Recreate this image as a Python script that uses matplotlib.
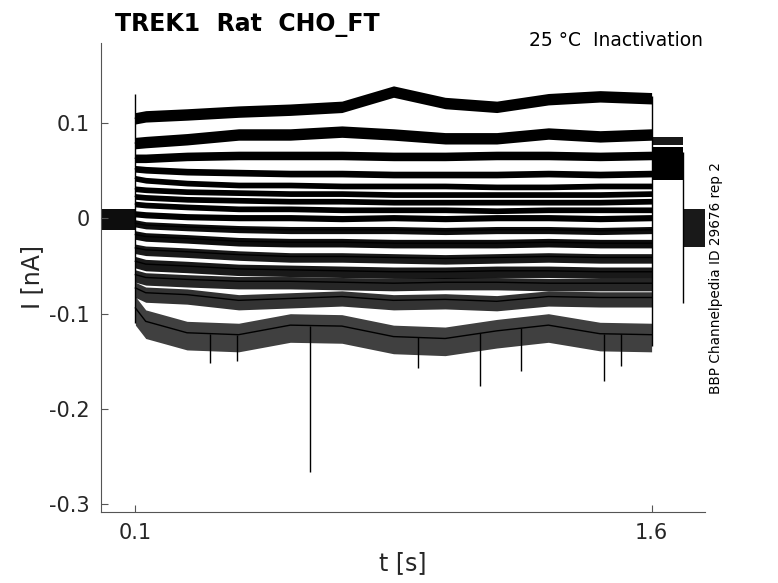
import matplotlib
matplotlib.use('Agg')
import matplotlib.pyplot as plt
import numpy as np

## sweep levels during the 0.1 - 1.6 s pulse, read at these times [s]
t_knots = [0.1, 0.13, 0.25, 0.4, 0.55, 0.7, 0.85, 1.0, 1.15, 1.3, 1.45, 1.6]

## current level of each sweep at t_knots [nA]
levels = [
    [0.105, 0.107, 0.109, 0.112, 0.114, 0.117, 0.133, 0.121, 0.117, 0.125, 0.128, 0.126],
    [0.079, 0.080, 0.083, 0.088, 0.088, 0.091, 0.088, 0.084, 0.084, 0.089, 0.086, 0.088],
    [0.063, 0.063, 0.065, 0.066, 0.066, 0.066, 0.065, 0.065, 0.066, 0.066, 0.065, 0.066],
    [0.052, 0.051, 0.049, 0.048, 0.047, 0.047, 0.046, 0.046, 0.046, 0.047, 0.046, 0.047],
    [0.042, 0.040, 0.037, 0.035, 0.035, 0.034, 0.034, 0.034, 0.033, 0.033, 0.034, 0.034],
    [0.031, 0.030, 0.028, 0.027, 0.026, 0.026, 0.025, 0.025, 0.025, 0.025, 0.025, 0.026],
    [0.023, 0.022, 0.020, 0.019, 0.018, 0.018, 0.017, 0.017, 0.017, 0.017, 0.017, 0.018],
    [0.015, 0.014, 0.012, 0.010, 0.010, 0.009, 0.009, 0.009, 0.008, 0.009, 0.009, 0.009],
    [0.005, 0.004, 0.002, 0.001, 0.001, 0.000, 0.001, 0.000, 0.001, 0.001, 0.000, 0.001],
    [-0.005, -0.007, -0.009, -0.011, -0.012, -0.012, -0.012, -0.013, -0.012, -0.012, -0.013, -0.012],
    [-0.017, -0.019, -0.021, -0.024, -0.025, -0.025, -0.026, -0.026, -0.026, -0.025, -0.026, -0.026],
    [-0.031, -0.033, -0.035, -0.038, -0.040, -0.040, -0.041, -0.042, -0.041, -0.040, -0.041, -0.041],
    [-0.045, -0.048, -0.050, -0.053, -0.054, -0.055, -0.056, -0.056, -0.055, -0.055, -0.056, -0.056],
    [-0.059, -0.062, -0.064, -0.066, -0.066, -0.067, -0.068, -0.067, -0.067, -0.068, -0.068, -0.068],
    [-0.073, -0.078, -0.080, -0.086, -0.084, -0.082, -0.086, -0.085, -0.087, -0.082, -0.083, -0.083],
    [-0.094, -0.108, -0.120, -0.122, -0.112, -0.113, -0.124, -0.126, -0.118, -0.112, -0.121, -0.122],
]

## noise envelope of each sweep above / below its level [nA]
noise_up = [0.006, 0.006, 0.0045, 0.0035, 0.003, 0.003, 0.003, 0.003,
            0.003, 0.0035, 0.004, 0.004, 0.005, 0.005, 0.006, 0.012]
noise_down = [0.006, 0.006, 0.0045, 0.0035, 0.003, 0.003, 0.003, 0.003,
              0.0035, 0.004, 0.005, 0.006, 0.007, 0.008, 0.010, 0.018]
## how densely the noisy trace fills its envelope (0..1)
density = [1.0, 1.0, 1.0, 1.0, 1.0, 1.0, 1.0, 1.0,
           1.0, 0.95, 0.95, 0.9, 0.9, 0.85, 0.8, 0.75]

## holding before the pulse, tail after it, and recovery [s], [nA]
pre_t = [0.0, 0.1]
pre_lo, pre_hi = -0.012, 0.010
tail_t = [1.6, 1.69]
tail_lo, tail_hi = 0.040, 0.075
tail_top_lo, tail_top_hi = 0.077, 0.085
post_t = [1.69, 1.755]
post_lo, post_hi = -0.030, 0.010

## transients (time, min, max)
transients = [(0.1, -0.110, 0.130), (1.6, -0.134, 0.128), (1.69, -0.089, 0.070)]

## sharp downward spikes on the lowest sweeps (time, min)
spike_t = [0.318, 0.395, 0.607, 0.92, 1.10, 1.22, 1.463, 1.51]
spike_min = [-0.152, -0.150, -0.266, -0.157, -0.176, -0.160, -0.171, -0.155]

fig = plt.figure(figsize=(7.78, 5.83), dpi=100)
ax = fig.add_axes([0.1298, 0.1218, 0.7763, 0.8045])

txtcol = '#262626'
spcol = '#555555'

ax.fill_between(pre_t, pre_lo, pre_hi, color='k', alpha=0.95, lw=0)
for lev, up, dn, d in zip(levels, noise_up, noise_down, density):
    lev = np.array(lev)
    ax.fill_between(t_knots, lev - dn, lev + up, color='k', alpha=d, lw=0)
    ax.plot(t_knots, lev, color='k', lw=1.0)
ax.fill_between(tail_t, tail_lo, tail_hi, color='k', lw=0)
ax.fill_between(tail_t, tail_top_lo, tail_top_hi, color='k', alpha=0.9, lw=0)
ax.fill_between(post_t, post_lo, post_hi, color='k', alpha=0.9, lw=0)
for t, lo, hi in transients:
    ax.vlines(t, lo, hi, color='k', lw=1.0)
bottom = np.array(levels[-1])
ax.vlines(spike_t, np.interp(spike_t, t_knots, bottom), spike_min, color='k', lw=1.0)

ax.set_xlim(0, 1.755)
ax.set_ylim(-0.308, 0.184)
ax.set_xticks([0.1, 1.6])
ax.set_xticklabels(['0.1', '1.6'])
ax.set_yticks([-0.3, -0.2, -0.1, 0, 0.1])
ax.set_yticklabels(['-0.3', '-0.2', '-0.1', '0', '0.1'])
ax.tick_params(direction='in', length=5, width=0.8, colors=spcol,
               labelcolor=txtcol, labelsize=15, pad=8)
for s in ['top', 'right']:
    ax.spines[s].set_visible(False)
for s in ['left', 'bottom']:
    ax.spines[s].set_color(spcol)
    ax.spines[s].set_linewidth(0.8)

ax.set_xlabel('t [s]', fontsize=17, color=txtcol, labelpad=6)
ax.set_ylabel('I [nA]', fontsize=17, color=txtcol, labelpad=4)

fig.text(0.148, 0.957, 'TREK1  Rat  CHO_FT', fontsize=17, fontweight='bold',
         ha='left', va='center', color='k')
fig.text(0.903, 0.930, '25 \u00b0C  Inactivation', fontsize=13.5,
         ha='right', va='center', color='k')
fig.text(0.920, 0.523, 'BBP Channelpedia ID 29676 rep 2', fontsize=9.8,
         rotation=90, ha='center', va='center', color='k')

plt.savefig('out.png', dpi=100)
